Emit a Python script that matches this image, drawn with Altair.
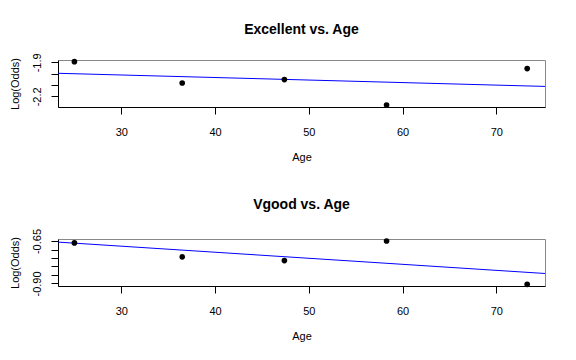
import altair as alt
import pandas as pd

# Data
age = [25.0, 36.5, 47.4, 58.3, 73.3]
excellent = [-1.894, -2.082, -2.052, -2.276, -1.955]
vgood = [-0.661, -0.743, -0.765, -0.650, -0.905]

x_domain = [23.25, 75.2]
x_ticks = [30, 40, 50, 60, 70]

exc_domain = [-2.294, -1.879]
exc_ticks = [-2.2, -2.1, -2.0, -1.9]
exc_labels = ["-2.2", "-1.9"]

vg_domain = [-0.915, -0.638]
vg_ticks = [-0.90, -0.85, -0.80, -0.75, -0.70, -0.65]
vg_labels = ["-0.90", "-0.65"]

titles = ["Excellent vs. Age", "Vgood vs. Age"]

FONT = "Liberation Sans"


def label_expr(labels):
    expr = "''"
    for s in reversed(labels):
        expr = f"abs(datum.value - ({float(s)})) < 1e-6 ? '{s}' : ({expr})"
    return expr


def panel(vals, domain, ticks, labels, title):
    df = pd.DataFrame({"Age": age, "LogOdds": vals})
    base = alt.Chart(df)
    x = alt.X(
        "Age:Q",
        scale=alt.Scale(domain=x_domain, nice=False, zero=False),
        axis=alt.Axis(values=x_ticks, title="Age", format="d",
                      labelPadding=12, titlePadding=14),
    )
    y = alt.Y(
        "LogOdds:Q",
        scale=alt.Scale(domain=domain, nice=False, zero=False),
        axis=alt.Axis(values=ticks, labelExpr=label_expr(labels),
                      title="Log(Odds)", labelAngle=270,
                      labelAlign="center", labelBaseline="bottom",
                      labelPadding=9, titlePadding=11, labelOverlap=False),
    )
    line = (
        base.transform_regression("Age", "LogOdds", extent=x_domain)
        .mark_line(color="#0000FF", strokeWidth=1)
        .encode(x=x, y=y)
    )
    pts = base.mark_circle(size=32, color="black", opacity=1).encode(x=x, y=y)
    return alt.layer(line, pts).properties(
        width=487, height=47,
        title=alt.TitleParams(title, fontSize=14, fontWeight="bold",
                              font=FONT, color="black", anchor="middle",
                              frame="group", offset=16),
    )


top = panel(excellent, exc_domain, exc_ticks, exc_labels, titles[0])
bottom = panel(vgood, vg_domain, vg_ticks, vg_labels, titles[1])

chart = (
    alt.vconcat(top, bottom, spacing=34)
    .properties(padding={"left": 0, "top": 14, "right": 5, "bottom": 5},
                background="white")
    .configure_view(stroke="#888888", strokeWidth=1)
    .configure_axis(
        grid=False, domainColor="black", tickColor="black", tickSize=7,
        labelFont=FONT, titleFont=FONT, labelFontSize=11, titleFontSize=11,
        labelColor="black", titleColor="black", titleFontWeight="normal",
    )
)

chart.save("out.html", embed_options={"renderer": "svg", "actions": False})
